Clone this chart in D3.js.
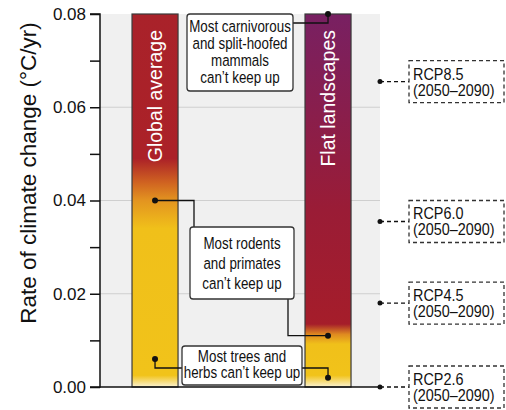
<!DOCTYPE html>
<html>
<head>
<meta charset="utf-8">
<script src="https://cdn.jsdelivr.net/npm/d3@7"></script>
<style>
  html, body { margin: 0; padding: 0; background: #ffffff; }
  svg { display: block; }
</style>
</head>
<body>
<svg id="chart" width="506" height="410"></svg>
<script>
// ---------------- DATA ----------------
const categories = ["Global average", "Flat landscapes"];
const barMax = [0.08, 0.08];
const yTicks = [0, 0.02, 0.04, 0.06, 0.08];
const yMinorTicks = [0.01, 0.03, 0.05, 0.07];
const yTitle = "Rate of climate change (°C/yr)";

// colour bands along each bar (value thresholds)
const globalStops = [0, 0.0025, 0.034, 0.040, 0.044, 0.049, 0.08];
const flatStops = [0, 0.0025, 0.0092, 0.0113, 0.0135, 0.038, 0.08];

// species annotations: text lines and the rates they point at
const annotText = [
  ["Most carnivorous", "and split-hoofed", "mammals", "can’t keep up"],
  ["Most rodents", "and primates", "can’t keep up"],
  ["Most trees and", "herbs can’t keep up"]
];
const annotGlobal = [null, 0.04, 0.006];
const annotFlat = [0.08, 0.011, 0.002];

// RCP scenarios
const rcpNames = ["RCP8.5", "RCP6.0", "RCP4.5", "RCP2.6"];
const rcpValues = [0.0655, 0.0355, 0.018, 0.0];
const rcpPeriod = "(2050–2090)";

// ---------------- STYLE / LAYOUT ----------------
const globalColors = ["#fbf2d2", "#f1c31a", "#f0c01a", "#e39420", "#cf6121", "#ab2128", "#a9222a"];
const flatColors = ["#fbf2d2", "#f1c31a", "#f0c01a", "#df8a20", "#a51d2a", "#9a1c36", "#782062"];
const font = "'Liberation Sans', Arial, sans-serif";

const svg = d3.select("#chart");
const plot = { left: 100, right: 380, top: 14, bottom: 387 };

const y = d3.scaleLinear().domain([0, 0.08]).range([plot.bottom, plot.top]);
const x = d3.scaleBand().domain(categories).range([plot.left, plot.right])
  .paddingInner(0.734).paddingOuter(0.1763).align(0.525);

// background
svg.append("rect").attr("x", plot.left).attr("y", plot.top)
  .attr("width", plot.right - plot.left).attr("height", plot.bottom - plot.top)
  .attr("fill", "#f0f0f0");

// gridlines
svg.append("g").selectAll("line").data(yTicks.filter(d => d > 0 && d < 0.08)).join("line")
  .attr("x1", plot.left).attr("x2", plot.right)
  .attr("y1", d => y(d)).attr("y2", d => y(d))
  .attr("stroke", "#cfcfcf").attr("stroke-width", 1);

// gradients
const defs = svg.append("defs");
function makeGrad(id, stops, colors) {
  const g = defs.append("linearGradient").attr("id", id)
    .attr("gradientUnits", "userSpaceOnUse")
    .attr("x1", 0).attr("x2", 0).attr("y1", y(0)).attr("y2", y(0.08));
  stops.forEach((s, i) => {
    g.append("stop").attr("offset", s / 0.08).attr("stop-color", colors[i]);
  });
}
makeGrad("g0", globalStops, globalColors);
makeGrad("g1", flatStops, flatColors);

// bars
svg.append("g").selectAll("rect").data(categories).join("rect")
  .attr("x", d => x(d)).attr("width", x.bandwidth())
  .attr("y", (d, i) => y(barMax[i])).attr("height", (d, i) => y(0) - y(barMax[i]))
  .attr("fill", (d, i) => `url(#g${i})`)
  .attr("stroke", "#3a3a3a").attr("stroke-width", 1.2);

// bar labels
svg.append("g").selectAll("text").data(categories).join("text")
  .attr("transform", d => `translate(${x(d) + x.bandwidth() / 2 + 7},${plot.top + 16}) rotate(-90)`)
  .attr("text-anchor", "end")
  .attr("font-family", font).attr("font-size", 19.5)
  .attr("fill", "#ffffff")
  .text(d => d);

// y axis
const yAxis = d3.axisLeft(y).tickValues(yTicks).tickFormat(d3.format(".2f")).tickSize(10).tickPadding(4);
const ga = svg.append("g").attr("transform", `translate(${plot.left},0)`).call(yAxis);
ga.select(".domain").attr("stroke", "#111").attr("stroke-width", 1.5).attr("d", `M-10,${plot.top}H0V${plot.bottom}H-10`);
ga.selectAll(".tick line").attr("stroke", "#111").attr("stroke-width", 1.5);
ga.selectAll(".tick text").attr("font-family", font).attr("font-size", 17).attr("fill", "#111");
const gm = svg.append("g").attr("transform", `translate(${plot.left},0)`)
  .call(d3.axisLeft(y).tickValues(yMinorTicks).tickFormat("").tickSize(10));
gm.select(".domain").remove();
gm.selectAll(".tick line").attr("stroke", "#111").attr("stroke-width", 1.5);

// bottom line
svg.append("line").attr("x1", plot.left).attr("x2", plot.right)
  .attr("y1", y(0)).attr("y2", y(0)).attr("stroke", "#111").attr("stroke-width", 1.5);

// y title
svg.append("text")
  .attr("transform", `translate(36,${(plot.top + 332) / 2}) rotate(-90)`)
  .attr("text-anchor", "middle")
  .attr("font-family", font).attr("font-size", 22.5).attr("fill", "#111")
  .text(yTitle);

// ---------------- annotations ----------------
const xG = x(categories[0]) + x.bandwidth() / 2;
const xF = x(categories[1]) + x.bandwidth() / 2;
const boxes = [
  { x0: 187, x1: 293, y0: 14, y1: 91, base: 32, lh: 17 },
  { x0: 190, x1: 294, y0: 227, y1: 299, base: 249, lh: 20 },
  { x0: 182, x1: 302, y0: 346, y1: 385, base: 362, lh: 16.5 }
];
const connectors = [
  `M${boxes[0].x1},23H${xF}V${y(annotFlat[0])}`,
  `M${xG},${y(annotGlobal[1])}H194V${boxes[1].y0}M288,${boxes[1].y1}V${y(annotFlat[1])}H${xF}`,
  `M${xG},${y(annotGlobal[2])}V368H${boxes[2].x0}M${boxes[2].x1},368H${xF}V${y(annotFlat[2])}`
];
const ann = svg.append("g");
ann.selectAll("path").data(connectors).join("path")
  .attr("d", d => d).attr("fill", "none").attr("stroke", "#111").attr("stroke-width", 1.3);
ann.selectAll("rect").data(boxes).join("rect")
  .attr("x", d => d.x0).attr("y", d => d.y0)
  .attr("width", d => d.x1 - d.x0).attr("height", d => d.y1 - d.y0)
  .attr("rx", 3).attr("fill", "#ffffff").attr("stroke", "#333").attr("stroke-width", 1.3);
annotText.forEach((lines, i) => {
  const b = boxes[i];
  const g = ann.append("g").attr("transform", `translate(${(b.x0 + b.x1) / 2},0) scale(0.81,1)`);
  const t = g.append("text").attr("text-anchor", "middle")
    .attr("font-family", font).attr("font-size", 16.5).attr("fill", "#111");
  lines.forEach((l, j) => t.append("tspan").attr("x", 0).attr("y", b.base + j * b.lh).text(l));
});
const dots = [];
annotGlobal.forEach(v => { if (v !== null) dots.push([xG, y(v)]); });
annotFlat.forEach(v => { if (v !== null) dots.push([xF, y(v)]); });
ann.selectAll("circle").data(dots).join("circle")
  .attr("cx", d => d[0]).attr("cy", d => d[1]).attr("r", 3).attr("fill", "#111");

// ---------------- RCP boxes ----------------
const rcp = svg.append("g");
rcpNames.forEach((name, i) => {
  const cy = y(rcpValues[i]);
  rcp.append("line").attr("x1", plot.right).attr("x2", 409).attr("y1", cy).attr("y2", cy)
    .attr("stroke", "#111").attr("stroke-width", 1.3).attr("stroke-dasharray", "4,3");
  rcp.append("circle").attr("cx", plot.right).attr("cy", cy).attr("r", 2.5).attr("fill", "#111");
  rcp.append("rect").attr("x", 409).attr("y", cy - 21).attr("width", 95).attr("height", 42)
    .attr("fill", "#ffffff").attr("stroke", "#333").attr("stroke-width", 1.3).attr("stroke-dasharray", "4,3");
  const g = rcp.append("g").attr("transform", `translate(413,0) scale(0.9,1)`);
  const t = g.append("text").attr("font-family", font).attr("font-size", 16).attr("fill", "#111");
  t.append("tspan").attr("x", 0).attr("y", cy - 2).text(name);
  t.append("tspan").attr("x", 0).attr("y", cy + 14).text(rcpPeriod);
});
</script>
</body>
</html>
